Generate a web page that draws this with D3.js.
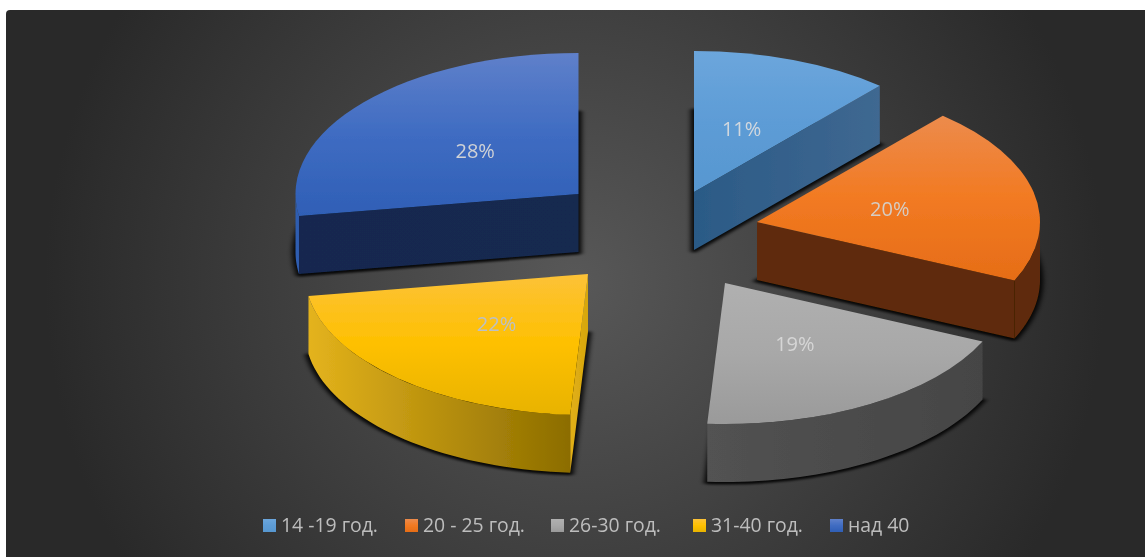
<!DOCTYPE html>
<html>
<head>
<meta charset="utf-8">
<script src="https://cdnjs.cloudflare.com/ajax/libs/d3/7.8.5/d3.min.js"></script>
<style>
html,body{margin:0;padding:0;background:#fff;overflow:hidden}
svg{display:block}
text{font-family:"Open Sans",sans-serif}
</style>
</head>
<body>
<svg id="c" width="1145" height="557"></svg>
<script>
// Data
const categories = ["14 -19 год.", "20 - 25 год.", "26-30 год.", "31-40 год.", "над 40"];
const shares = [11.4, 20.4, 19.2, 21.5, 27.5];

// Styles
const topStops = [
  ["#6ca6dc", "#5d9cd6", "#5797d0"],
  ["#ec8b4c", "#f27a22", "#e66d17"],
  ["#b0b0b0", "#a8a8a8", "#9a9a9a"],
  ["#fcc238", "#fec000", "#e8b300"],
  ["#5f80ca", "#3f6cc2", "#2f5fb6"]
];
const radialStops = [
  ["#2b5a86", "#3f6891"],
  ["#5f2c08", "#5f2c08"],
  ["#4a4a4a", "#4a4a4a"],
  ["#e2b018", "#d6a60c"],
  ["#14284f", "#16294f"]
];
const outerStops = [
  ["#3f6891", "#3f6891"],
  ["#5f2c08", "#5f2c08"],
  ["#525252", "#454545"],
  ["#e4b31c", "#8c6d00"],
  ["#2f5db0", "#2f5db0"]
];
const labelColors = ["#d2d8de", "#d6cdc4", "#d6d6d6", "#bcc0c6", "#d0d2d6"];
// layout: each exploded slice's apex, which radial face shows
const apexes = [[694,192],[757,222],[725,283],[588,274],[578.5,194]];
const labelNudge = [0,1,3,0,1];
const radialFace = ["end","end",null,"start","start"];
const legendX = [263,405,551,693,830];
const R = {x:283, y:141, depth:58};

const svg = d3.select("#c");
const defs = svg.append("defs");

const rg = defs.append("radialGradient").attr("id","bg").attr("gradientUnits","userSpaceOnUse")
  .attr("cx",575).attr("cy",283).attr("r",530);
rg.append("stop").attr("offset",0).attr("stop-color","#585858");
rg.append("stop").attr("offset",1).attr("stop-color","#292929");

const blur = defs.append("filter").attr("id","sh").attr("x","-10%").attr("y","-10%").attr("width","120%").attr("height","120%");
blur.append("feGaussianBlur").attr("stdDeviation",2.4);
const soft = defs.append("filter").attr("id","soft").attr("filterUnits","userSpaceOnUse")
  .attr("x",0).attr("y",0).attr("width",1145).attr("height",557);
soft.append("feGaussianBlur").attr("stdDeviation",0.45);

function grad(id, stops, horizontal){
  const g = defs.append("linearGradient").attr("id",id)
    .attr("x1",0).attr("y1",0).attr("x2",horizontal?1:0).attr("y2",horizontal?0:1);
  stops.forEach((c,i)=>g.append("stop").attr("offset",i/(stops.length-1)).attr("stop-color",c));
  return `url(#${id})`;
}

svg.append("path")
  .attr("d","M6,14 Q6,10 10,10 H1145 V557 H6 Z")
  .attr("fill","url(#bg)");

const pie = d3.pie().sort(null)(shares);
const kx = d3.scaleLinear().domain([-1,1]).range([-R.x,R.x]);
const ky = d3.scaleLinear().domain([-1,1]).range([R.y,-R.y]);
const arcTop = d3.arc().innerRadius(0).outerRadius(R.x);
const arcLabel = d3.arc().innerRadius(0).outerRadius(R.x*0.96);
const line = d3.line();
const flat = R.y/R.x;
const pt = (a,[cx,cy],dy=0)=>[cx+kx(Math.sin(a)), cy+ky(Math.cos(a))+dy];

const data = pie.map((p,i)=>({...p,i,apex:apexes[i]}));

// shadows: the bottom face of each slab, blurred
svg.append("g").selectAll("path").data(data).join("path")
  .attr("d",arcTop)
  .attr("transform",d=>`translate(${d.apex[0]},${d.apex[1]+R.depth+1}) scale(1,${flat})`)
  .attr("fill","#000").attr("stroke","#000")
  .attr("stroke-width",6.5).attr("stroke-linejoin","round")
  .attr("filter","url(#sh)").attr("opacity",0.88);

const sliceLayer = svg.append("g").attr("filter","url(#soft)");
const slices = sliceLayer.selectAll("g").data(data).join("g");

// outer curved side faces (front half of the ellipse only)
slices.each(function(d){
  const lo = Math.max(d.startAngle,Math.PI/2), hi = Math.min(d.endAngle,Math.PI*1.5);
  if(hi<=lo) return;
  const as = d3.range(0,41).map(k=>lo+(hi-lo)*k/40);
  const up = as.map(a=>pt(a,d.apex));
  const dn = as.slice().reverse().map(a=>pt(a,d.apex,R.depth));
  d3.select(this).append("path").attr("d",line(up.concat(dn))+"Z")
    .attr("fill",grad("out"+d.i,outerStops[d.i],true));
});

// radial side faces
slices.filter(d=>radialFace[d.i]).append("path")
  .attr("d",d=>{
    const a = radialFace[d.i]==="end"?d.endAngle:d.startAngle;
    const o = d.apex;
    return line([o,pt(a,o),pt(a,o,R.depth),[o[0],o[1]+R.depth]])+"Z";
  })
  .attr("fill",d=>grad("rad"+d.i,radialStops[d.i],true));

// top faces
slices.append("path")
  .attr("d",arcTop)
  .attr("transform",d=>`translate(${d.apex[0]},${d.apex[1]}) scale(1,${flat})`)
  .attr("fill",d=>grad("top"+d.i,topStops[d.i],false));

// value labels
slices.append("text")
  .attr("x",d=>d.apex[0]+arcLabel.centroid(d)[0])
  .attr("y",d=>d.apex[1]+arcLabel.centroid(d)[1]*flat+7+labelNudge[d.i])
  .attr("text-anchor","middle")
  .attr("font-size",20)
  .attr("fill",d=>labelColors[d.i])
  .text(d=>Math.round(d.data)+"%");

// legend
const leg = svg.append("g").attr("filter","url(#soft)").selectAll("g").data(categories).join("g")
  .attr("transform",(d,i)=>`translate(${legendX[i]},519)`);
leg.append("rect").attr("width",13).attr("height",13)
  .attr("fill",(d,i)=>grad("leg"+i,topStops[i],false));
leg.append("text").attr("x",18).attr("y",13)
  .attr("font-size",19.4).attr("fill","#bdbdbd").text(d=>d);
</script>
</body>
</html>
